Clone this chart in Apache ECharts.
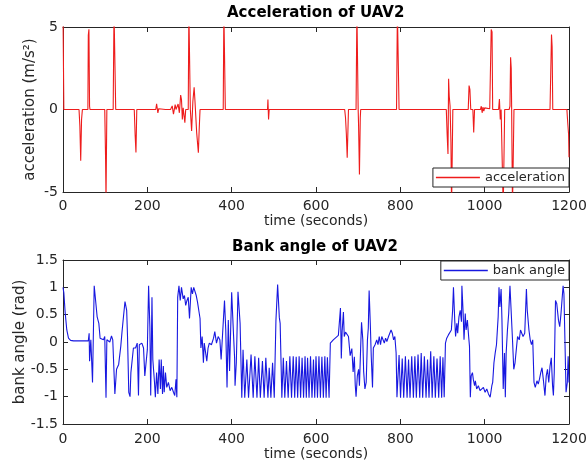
<!DOCTYPE html>
<html>
<head>
<meta charset="utf-8">
<title>UAV2 acceleration and bank angle</title>
<script src="https://cdn.jsdelivr.net/npm/echarts@6/dist/echarts.min.js"></script>
<style>
  html, body { margin: 0; padding: 0; background: #ffffff; }
  #chart { width: 588px; height: 468px; }
</style>
</head>
<body>
<div id="chart"></div>
<script>
// Time axis ticks (seconds)
const timeMin = 0;
const timeMax = 1200;
const timeStep = 200;

// Line colours
const accelColor = '#ee1c1c';
const bankColor = '#1818e0';

// Acceleration of UAV2, [time s, acceleration m/s^2]; values beyond +-5 run off the axes
const accelPoints = [
  [0, 6], [2, 0], [38, 0], [40, -1.0], [42, -3.1], [44, -0.6], [46, 0],
  [59, 0], [60, 4.5], [61.5, 4.86], [63, 0.2], [64, 0],
  [99, 0], [101, -3], [102, -5.5], [104, 0],
  [119, 0], [121, 6], [123, 6], [125, 0],
  [169, 0], [171, -1.5], [173, -2.6], [175, 0],
  [220, 0], [222, 0.35], [225, -0.2], [227, 0.05], [229, 0],
  [243, 0], [244, 0.1], [245, -0.1], [246, 0],
  [255, 0], [259, 0.22], [262, -0.28], [266, 0.3], [268, 0], [271, -0.1], [273, 0.33],
  [276, -0.2], [278, 0.5], [279, 0.87], [281, 0.6], [283, -0.6], [285, 0.1], [287, 0],
  [289, -0.8], [291, 0], [297, 0], [298.5, 6], [300.5, 6], [302, 0], [305, -1.3],
  [308, 0.5], [311, 1.35], [313, 0.5], [317, -1.4], [321, -2.62], [323, -1.2], [325, 0],
  [380, 0], [381.5, 6], [383.5, 6], [385, 0],
  [485, 0], [486, 0.6], [487.5, -0.6], [489, 0],
  [668, 0], [670, -0.5], [672, -1.5], [674, -2.93], [676, -1.0], [677, 0],
  [695, 0], [697, 6], [699, 6], [700, 0], [701, -1], [703, -3.94], [705, -0.5], [706, 0],
  [791, 0], [793, 6], [795, 6], [797, 0],
  [909, 0], [911, -1.5], [913, -2.7], [914.5, 1.86], [916, 0.8], [918, 0.2], [920, -2],
  [921.5, -6], [923, -6], [924.5, 0],
  [961, 0], [963, 1.45], [965, 1.2], [967, 0], [972, 0], [974, -1.4], [976, 0],
  [990, 0], [992, 0.2], [994, -0.2], [996, 0.15], [998, -0.1], [1000, 0.1], [1002, 0],
  [1012, 0.05], [1014, 0.1], [1015.5, 4.85], [1017.5, 4.7], [1019, 0],
  [1033, 0], [1035, 0.63], [1037, -0.6], [1039, 0],
  [1042, 0], [1044, -6], [1046, -6], [1047.5, 0],
  [1058, 0], [1060, 0.2], [1061.5, 3.17], [1063, 2.5], [1064, 0], [1066, -6], [1068, -6], [1069.5, 0],
  [1155, 0], [1157, 0.1], [1158.5, 4.55], [1160, 3.8], [1161.5, 0],
  [1195, 0], [1197, -0.8], [1199, -1.5], [1200, -2.9]
];

// Bank angle of UAV2 [time s, angle rad], split by flight phase
const bankLevelOff = [
  [0, 1.0], [2, 0.9], [5, 0.55], [9, 0.22], [13, 0.07], [18, 0.03], [25, 0.02], [60, 0.02]
];
const bankManeuvers1 = [
  [62, 0.16], [63, -0.35], [66, 0.04], [70, -0.74], [74, 1.03], [77, 1.0], [81, 0.46],
  [85, 0.34], [88, 0.07], [96, 0.04], [99, 0.1], [102, -1.02], [104, 0.04], [108, 0.07],
  [111, 0.0], [115, 0.11], [118, 0.04], [123, -0.95], [127, -0.5], [132, -0.41],
  [137, -0.08], [140, 0.19], [143, 0.43], [147, 0.74], [151, 0.58], [153, 0.1],
  [156, -0.92], [159, -1.0], [161, -0.56], [167, -0.11], [172, -0.11], [176, -0.02],
  [179, -0.98], [181, -0.05], [187, -0.02], [191, -0.11], [194, -0.62], [197, -0.38],
  [200, -0.14], [203, 1.03], [206, 0.28], [208, -0.98], [211, 0.82], [213, -0.32],
  [217, -0.74], [219, -1.01], [222, -0.56], [225, -0.95], [228, -0.32], [231, -0.86],
  [233, -0.32], [236, -0.95], [238, -0.44], [240, -0.92], [243, -0.56], [246, -0.83],
  [250, -0.74], [254, -0.89], [258, -0.83], [262, -0.92], [265, -0.98], [268, -0.68],
  [270, -1.01]
];
const bankManeuvers2 = [
  [272, 0.82], [275, 1.03], [278, 0.76], [281, 1.0], [285, 0.79], [288, 0.85], [291, 0.67],
  [294, 0.76], [297, 0.82], [300, 0.43], [304, 1.0], [307, 0.88], [310, 1.0], [313, 1.0],
  [316, 0.85], [319, 0.73], [323, 0.76], [325, 0.43], [327, -0.11], [330, 0.1],
  [333, -0.38], [335, -0.02], [338, -0.05], [341, -0.35], [344, -0.11], [347, -0.02],
  [352, -0.05], [357, 0.07], [360, 0.19], [364, -0.02], [368, 0.1], [372, 0.04],
  [375, -0.32], [379, -0.35], [383, 0.76], [386, 0.22], [389, -0.83], [392, 0.4],
  [395, -0.53], [400, 0.91], [404, 0.2], [407, -0.3], [408, -0.8], [411, -0.38],
  [415, 0.92], [420, 0.34]
];
const bankOrbit1 = [
  [424, -1.02], [427, -0.14], [431, -1.02], [436, -0.32], [440, -1.02], [446, -0.23],
  [451, -1.02], [455, -0.26], [460, -1.02], [464, -0.29], [468, -1.02], [473, -0.35],
  [477, -1.02], [481, -0.29], [486, -1.02], [489, -0.47], [493, -1.02], [497, -0.38],
  [501, -1.02], [505, 0.4], [509, 1.05], [513, 0.45], [515, 0.34], [519, -1.02],
  [522.5, -0.29], [526, -1.02], [530, -0.35], [534, -1.02], [538, -0.26], [542, -1.02],
  [546, -0.26], [549.5, -1.02], [553, -0.27], [556.5, -1.02], [560, -0.26], [563.5, -1.02],
  [567, -0.29], [570.5, -1.02], [574, -0.26], [577, -1.02], [580, -0.29], [583.5, -1.02],
  [587, -0.26], [590.5, -1.02], [594, -0.32], [597, -1.02], [600, -0.26], [603.5, -1.02],
  [607, -0.26], [610.5, -1.02], [614, -0.27], [617.5, -1.02], [621, -0.26], [624, -1.02],
  [627, -0.28], [631, -1.02]
];
const bankManeuvers3 = [
  [634, -0.02], [641, 0.04], [645, 0.06], [653, 0.12], [656, 0.15], [658, 0.62],
  [660, -0.3], [662, 0.2], [665, 0.55], [667, 0.1], [670, 0.18], [673, 0.15], [677, 0.1],
  [681, -0.25], [685, -0.12], [688, -0.55], [691, -0.27], [693, -0.78], [695, -1.0],
  [698, -0.62], [701, -0.5], [703, -0.8], [706, -0.08], [708, 0.36], [711, 0.04],
  [713, -0.54], [716, -0.86], [719, -0.74], [722, 0.04], [724, 0.25], [726, 0.94],
  [729, 0.28], [731, -0.26], [734, -0.83], [736, -0.11], [740, -0.05], [744, 0.04],
  [747, -0.05], [750, 0.1], [753, -0.05], [756, 0.1], [759, 0.04], [762, -0.02],
  [765, 0.07], [768, 0.01], [772, 0.1], [775, 0.16], [778, 0.22], [781, 0.16],
  [784, 0.04], [787, 0.1], [790, -0.2]
];
const bankOrbit2 = [
  [792, -1.01], [797, -0.24], [800.5, -1.02], [804.5, -0.3], [808, -1.02], [812, -0.26],
  [816, -1.02], [819.5, -0.32], [823, -1.02], [827, -0.26], [831, -1.02], [834.5, -0.26],
  [838, -1.02], [842, -0.23], [846, -1.02], [849.5, -0.2], [853, -1.02], [857, -0.26],
  [861, -1.02], [864.5, -0.32], [868, -1.02], [872, -0.17], [875.5, -1.02], [879.5, -0.26],
  [883, -1.02], [887, -0.3], [891, -1.02], [894.5, -0.26], [898, -1.02], [901, -0.28],
  [904, -1.01]
];
const bankManeuvers4 = [
  [907, -0.02], [910, 0.07], [914, 0.13], [918, 0.1], [921, 0.22], [924, 0.58], [926, 1.0],
  [929, 0.4], [931, 0.1], [934, 0.34], [936, 0.16], [939, 0.46], [942, 0.58], [945, 0.37],
  [946, 1.03], [949, 0.52], [951, 0.04], [954, 0.52], [956, 0.22], [959, 0.4], [962, 0.1],
  [964, -0.08], [966, -1.01], [968, -0.62], [971, -0.56], [973, -0.68], [976, -0.8],
  [978, -0.71], [981, -0.86], [985, -0.8], [989, -0.89], [993, -0.92], [997, -0.83],
  [1001, -0.92], [1005, -0.86], [1009, -0.95], [1013, -1.01], [1017, -0.8], [1019, -0.74],
  [1022, -0.38], [1025, -0.2], [1028, -0.05], [1032, 0.46], [1034, 1.0], [1036, 0.64],
  [1039, 0.97], [1041, 0.4], [1044, -0.86], [1047, -0.2], [1049, -1.01], [1051, -0.2],
  [1054, 0.22], [1057, 0.52], [1060, 1.03], [1063, 1.0], [1066, 0.04], [1069, -0.5],
  [1072, -0.38], [1075, -0.14], [1078, 0.1], [1082, 0.04], [1085, 0.22], [1088, 0.16],
  [1091, 0.1], [1095, 0.16], [1099, 0.97], [1101, 0.58], [1105, 0.22], [1108, 0.04],
  [1111, -0.05], [1114, 0.04], [1117, -0.74], [1120, -0.83], [1124, -0.71], [1127, -0.77],
  [1130, -0.68], [1133, -0.56], [1136, -0.47], [1139, -0.68], [1143, -0.98], [1146, -0.62],
  [1149, -0.5], [1152, -0.74], [1155, -0.44], [1158, -0.29], [1161, -0.8], [1163, -0.98],
  [1165, -0.56], [1168, 0.76], [1171, 0.7], [1175, 0.4], [1178, 0.28], [1181, 0.52],
  [1183, 0.49], [1186, 1.03], [1188, 0.88], [1191, -0.2], [1193, -0.92], [1196, -0.74],
  [1198, -0.26], [1200, -0.74]
];

const bankPoints = [].concat(
  bankLevelOff, bankManeuvers1, bankManeuvers2, bankOrbit1,
  bankManeuvers3, bankOrbit2, bankManeuvers4
);

const ink = '#262626';
const fontFamily = "'DejaVu Sans', sans-serif";

// plain number text, no thousands separators
const plain = function (v) { return String(v); };

function timeAxis(gridIndex, position, labelled, labelMargin, nameGap) {
  return {
    type: 'value', gridIndex: gridIndex, position: position,
    min: timeMin, max: timeMax, interval: timeStep,
    name: labelled ? 'time (seconds)' : '',
    nameLocation: 'middle', nameGap: nameGap || 0,
    nameTextStyle: { color: ink, fontSize: 14, fontFamily: fontFamily },
    axisLine: { show: true, onZero: false, lineStyle: { color: ink, width: 1 } },
    axisTick: { show: true, inside: true, length: 5, lineStyle: { color: ink } },
    axisLabel: { show: labelled, color: ink, fontSize: 14, fontFamily: fontFamily,
      margin: labelMargin || 5, formatter: plain },
    splitLine: { show: false }
  };
}

function valueAxis(gridIndex, position, min, max, step, name, gap) {
  return {
    type: 'value', gridIndex: gridIndex, position: position,
    min: min, max: max, interval: step,
    name: name || '', nameLocation: 'middle', nameGap: gap || 0, nameRotate: 90,
    nameMoveOverlap: false,
    nameTextStyle: { color: ink, fontSize: 15, fontFamily: fontFamily },
    axisLine: { show: true, onZero: false, lineStyle: { color: ink, width: 1 } },
    axisTick: { show: true, inside: true, length: 5, lineStyle: { color: ink } },
    axisLabel: { show: !!name, color: ink, fontSize: 14, fontFamily: fontFamily,
      margin: 5, formatter: plain },
    splitLine: { show: false }
  };
}

const legendBase = {
  orient: 'horizontal',
  backgroundColor: '#ffffff',
  borderColor: ink, borderWidth: 1, borderRadius: 0,
  padding: [3, 4, 3, 3],
  icon: 'rect',
  itemWidth: 44, itemHeight: 1.6,
  textStyle: { color: ink, fontSize: 13, fontFamily: fontFamily },
  selectedMode: false
};

const chart = echarts.init(document.getElementById('chart'), null, { renderer: 'canvas' });
chart.setOption({
  animation: false,
  backgroundColor: '#ffffff',
  title: [
    { text: 'Acceleration of UAV2', left: 227, top: 6, padding: 0,
      textStyle: { color: '#000', fontSize: 15, fontWeight: 'bold', fontFamily: fontFamily } },
    { text: 'Bank angle of UAV2', left: 232, top: 240, padding: 0,
      textStyle: { color: '#000', fontSize: 15, fontWeight: 'bold', fontFamily: fontFamily } }
  ],
  legend: [
    Object.assign({}, legendBase, {
      data: [{ name: 'acceleration', itemStyle: { color: accelColor } }], right: 19, top: 168 }),
    Object.assign({}, legendBase, {
      data: [{ name: 'bank angle', itemStyle: { color: bankColor } }], right: 19, top: 261 })
  ],
  grid: [
    { left: 63, top: 27, width: 506, height: 165, outerBoundsMode: 'none', containLabel: false },
    { left: 63, top: 260, width: 506, height: 164, outerBoundsMode: 'none', containLabel: false }
  ],
  xAxis: [
    timeAxis(0, 'bottom', true, 7, 20),
    timeAxis(0, 'top', false),
    timeAxis(1, 'bottom', true, 8, 21),
    timeAxis(1, 'top', false)
  ],
  yAxis: [
    valueAxis(0, 'left', -5, 5, 5, 'acceleration (m/s²)', 25),
    valueAxis(0, 'right', -5, 5, 5, '', 0),
    valueAxis(1, 'left', -1.5, 1.5, 0.5, 'bank angle (rad)', 35),
    valueAxis(1, 'right', -1.5, 1.5, 0.5, '', 0)
  ],
  series: [
    {
      name: 'acceleration', type: 'line', xAxisIndex: 0, yAxisIndex: 0,
      data: accelPoints, symbol: 'none', clip: true,
      lineStyle: { color: accelColor, width: 1.1 }, itemStyle: { color: accelColor }
    },
    {
      name: 'bank angle', type: 'line', xAxisIndex: 2, yAxisIndex: 2,
      data: bankPoints, symbol: 'none', clip: true,
      lineStyle: { color: bankColor, width: 1.1 }, itemStyle: { color: bankColor }
    }
  ]
});
</script>
</body>
</html>
